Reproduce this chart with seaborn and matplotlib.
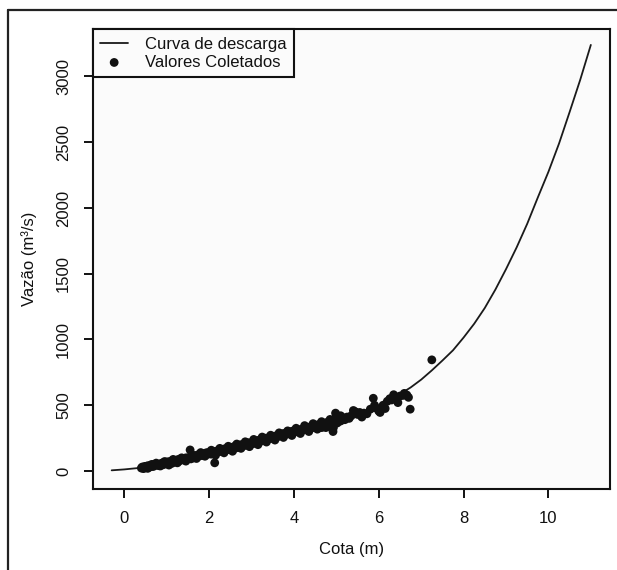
import matplotlib
matplotlib.use("Agg")
import matplotlib.pyplot as plt
from matplotlib.lines import Line2D
import seaborn as sns
import pandas as pd

# =========================
# DADOS
# =========================
curva_cota = [-0.3, 0.0, 0.5, 1.0, 1.5, 2.0, 2.5, 3.0, 3.5, 4.0, 4.5, 5.0,
              5.5, 6.0, 6.25, 6.5, 6.75, 7.0, 7.25, 7.5, 7.75, 8.0, 8.25, 8.5,
              8.75, 9.0, 9.25, 9.5, 9.75, 10.0, 10.25, 10.5, 10.75, 11.0]
curva_vazao = [5, 12, 28, 52, 88, 125, 163, 200, 238, 278, 320, 370,
               430, 495, 535, 585, 635, 695, 765, 840, 918, 1015, 1120, 1240,
               1380, 1535, 1700, 1880, 2080, 2275, 2490, 2730, 2975, 3240]

cota = [0.40, 0.42, 0.45, 0.48, 0.50, 0.52, 0.55, 0.58, 0.60, 0.62, 0.65, 0.68,
        0.70, 0.72, 0.75, 0.78, 0.80, 0.82, 0.85, 0.88, 0.90, 0.92, 0.95, 0.98,
        1.00, 1.03, 1.05, 1.08, 1.10, 1.12, 1.15, 1.18, 1.20, 1.23, 1.25, 1.28,
        1.30, 1.33, 1.35, 1.38, 1.40, 1.43, 1.45, 1.48,
        1.50, 1.53, 1.55, 1.57, 1.60, 1.63, 1.65, 1.68, 1.70, 1.73, 1.75, 1.78,
        1.80, 1.83, 1.85, 1.88, 1.90, 1.93, 1.95, 1.98,
        2.00, 2.03, 2.05, 2.08, 2.10, 2.13, 2.15, 2.18, 2.20, 2.23, 2.25, 2.28,
        2.30, 2.33, 2.35, 2.38, 2.40, 2.43, 2.45, 2.48,
        2.50, 2.53, 2.55, 2.58, 2.60, 2.63, 2.65, 2.68, 2.70, 2.73, 2.75, 2.78,
        2.80, 2.83, 2.85, 2.88, 2.90, 2.93, 2.95, 2.98,
        3.00, 3.03, 3.05, 3.08, 3.10, 3.13, 3.15, 3.18, 3.20, 3.23, 3.25, 3.28,
        3.30, 3.33, 3.35, 3.40, 3.43, 3.45, 3.48,
        3.50, 3.53, 3.55, 3.58, 3.60, 3.63, 3.65, 3.70, 3.73, 3.75, 3.80, 3.83,
        3.85, 3.88, 3.90, 3.93, 3.95, 3.98,
        4.00, 4.05, 4.08, 4.10, 4.15, 4.18, 4.20, 4.25, 4.30, 4.33, 4.35, 4.40,
        4.45, 4.48,
        4.50, 4.55, 4.60, 4.62, 4.65, 4.70, 4.75, 4.78, 4.80, 4.85, 4.90, 4.93,
        4.95, 4.98, 5.00, 5.00, 5.02,
        5.05, 5.10, 5.15, 5.20, 5.25, 5.30, 5.35, 5.45, 5.50, 5.55, 5.65, 5.72,
        5.80, 5.87, 5.92, 6.00, 6.03, 6.10, 6.20, 6.26, 6.30, 6.38, 6.42, 6.50,
        6.58, 6.66, 6.70, 6.74, 7.25,
        0.55, 0.65, 0.85, 0.95, 1.05, 1.15, 1.25, 1.35, 1.45, 1.60, 1.70, 1.80,
        1.90, 2.05, 2.15, 2.25, 2.35, 2.45, 2.55, 2.65, 2.75, 2.85, 2.95, 3.05,
        3.15, 3.25, 3.35, 3.45, 3.55, 3.65, 3.75, 3.85, 3.95, 4.05, 4.15, 4.25,
        4.35, 4.45, 4.55, 4.65, 4.75, 4.85, 4.92, 5.10, 5.40, 5.60, 5.90, 6.15,
        6.35, 6.60, 6.45]
vazao = [22, 30, 18, 35, 25, 28, 40, 32, 30, 45, 38, 34,
         48, 42, 60, 45, 50, 40, 55, 52, 62, 48, 58, 66,
         55, 70, 60, 64, 75, 58, 72, 80, 68, 78, 85, 74,
         90, 82, 88, 95, 84, 92, 100, 90,
         96, 104, 160, 92, 108, 100, 115, 105, 118, 110, 125, 115,
         122, 130, 118, 128, 135, 125, 140, 132,
         130, 142, 128, 138, 148, 62, 140, 152, 145, 158, 150, 160,
         148, 165, 155, 170, 160, 168, 175, 162,
         170, 180, 165, 178, 188, 175, 185, 195, 180, 192, 200, 188,
         198, 205, 195, 210, 200, 215, 205, 212,
         205, 218, 210, 222, 228, 215, 230, 222, 238, 228, 242, 232,
         245, 238, 250, 244, 256, 248, 260,
         250, 262, 255, 268, 260, 272, 265, 278, 270, 285, 278, 290,
         282, 295, 285, 298, 290, 305,
         295, 305, 298, 312, 305, 318, 310, 325, 318, 332, 325, 338,
         330, 345,
         335, 350, 342, 358, 330, 345, 355, 370, 340, 378, 360, 330,
         375, 440, 415, 390, 365,
         395, 380, 405, 390, 410, 400, 420, 450, 430, 445, 440, 435,
         470, 553, 480, 455, 445, 500, 530, 550, 540, 565, 560, 570,
         575, 578, 560, 470, 845,
         20, 50, 38, 72, 45, 88, 62, 100, 75, 122, 95, 140,
         112, 158, 120, 172, 138, 188, 150, 205, 172, 222, 185, 240,
         200, 258, 220, 272, 235, 290, 255, 305, 270, 325, 285, 345,
         300, 360, 318, 375, 330, 392, 300, 420, 460, 410, 500, 475,
         580, 590, 520]

curva = pd.DataFrame({"cota": curva_cota, "vazao": curva_vazao})
pontos = pd.DataFrame({"cota": cota, "vazao": vazao})

# =========================
# ESTILO
# =========================
sns.set_style("white")
plt.rcParams['font.family'] = ['Liberation Sans', 'DejaVu Sans']
plt.rcParams['text.color'] = '#111111'
plt.rcParams['axes.labelcolor'] = '#111111'
plt.rcParams['xtick.color'] = '#111111'
plt.rcParams['ytick.color'] = '#111111'

fig = plt.figure(figsize=(6.17, 5.70), dpi=100)
fig.patch.set_facecolor('white')
ax = fig.add_axes([92.5 / 617, 1 - 489 / 570, (610 - 92.5) / 617, (489 - 29) / 570])
ax.set_facecolor('#fbfbfb')

# moldura externa (esquerda e topo)
fig.add_artist(Line2D([8 / 617, 8 / 617], [0, 1 - 10 / 570], transform=fig.transFigure,
                      color='#222222', lw=1.6))
fig.add_artist(Line2D([8 / 617, 1], [1 - 10 / 570, 1 - 10 / 570], transform=fig.transFigure,
                      color='#222222', lw=1.6))

# =========================
# GRAFICO
# =========================
sns.lineplot(data=curva, x="cota", y="vazao", color='#1a1a1a', lw=1.3, sort=False,
             ax=ax, label='Curva de descarga')
sns.scatterplot(data=pontos, x="cota", y="vazao", color='#111111', s=40,
                edgecolor='none', ax=ax, label='Valores Coletados', zorder=3)

ax.set_xlim(-0.752, 11.452)
ax.set_ylim(-137, 3361)
ax.set_xticks([0, 2, 4, 6, 8, 10])
ax.set_yticks([0, 500, 1000, 1500, 2000, 2500, 3000])

for s in ax.spines.values():
    s.set_visible(True)
    s.set_color('#111111')
    s.set_linewidth(1.5)

ax.tick_params(axis='both', direction='out', length=6.5, width=1.4, pad=9,
               labelsize=12, bottom=True, left=True, top=False, right=False)
for lbl in ax.get_yticklabels():
    lbl.set_rotation(90)
    lbl.set_va('center')

ax.set_xlabel('Cota (m)', fontsize=12)
ax.set_ylabel('Vazão (m³/s)', fontsize=12)
ax.xaxis.set_label_coords(0.5, -0.115)
ax.yaxis.set_label_coords(-0.107, 0.5)

leg = ax.legend(loc='upper left', borderaxespad=0, frameon=True, fancybox=False,
                edgecolor='#111111', framealpha=1, facecolor='#fbfbfb', fontsize=12,
                handlelength=1.7, handletextpad=1.0, borderpad=0.45, labelspacing=0.2)
leg.get_frame().set_linewidth(1.5)

plt.savefig("out.png", dpi=100)
